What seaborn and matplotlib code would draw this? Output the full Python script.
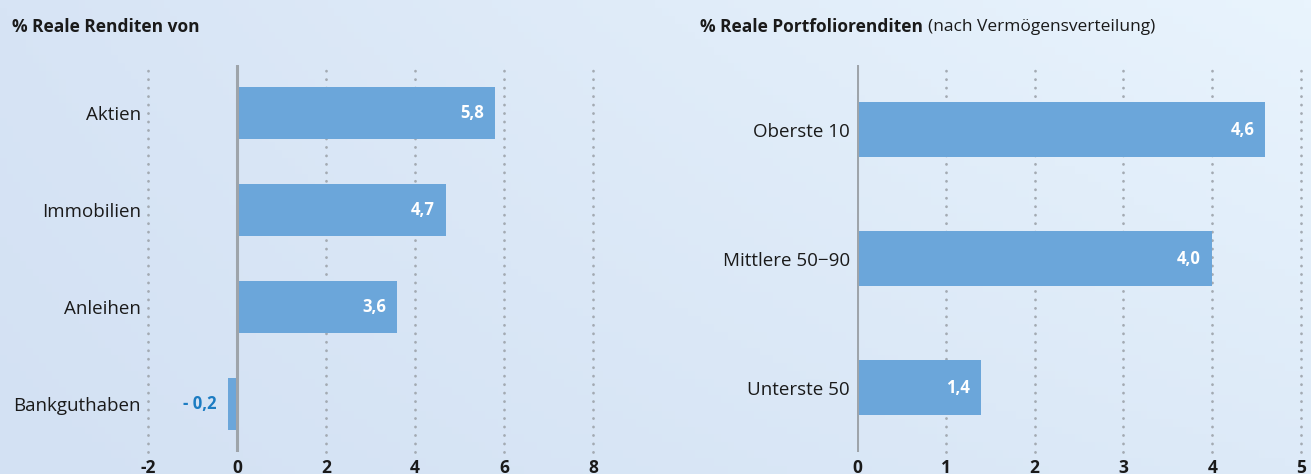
import numpy as np
import pandas as pd
import matplotlib
matplotlib.use("Agg")
import matplotlib.pyplot as plt
import seaborn as sns
from matplotlib.colors import to_rgb

# ---- data ----
left_categories = ["Aktien", "Immobilien", "Anleihen", "Bankguthaben"]
left_values = [5.8, 4.7, 3.6, -0.2]
left_labels = ["5,8", "4,7", "3,6", "- 0,2"]
left_ticks = [-2, 0, 2, 4, 6, 8]

right_categories = ["Oberste 10", "Mittlere 50\u221290", "Unterste 50"]
right_values = [4.6, 4.0, 1.4]
right_labels = ["4,6", "4,0", "1,4"]
right_ticks = [0, 1, 2, 3, 4, 5]

BAR = "#6BA6DA"
NEG_TXT = "#1C7CC2"
GRID = "#A3AAB2"
ZERO = "#9EA4AA"
TXT = "#1A1A1A"

sns.set_theme(style="white")
plt.rcParams["font.family"] = ["Open Sans", "DejaVu Sans"]

fig = plt.figure(figsize=(13.11, 4.74), dpi=100)

# background gradient
bg = fig.add_axes([0, 0, 1, 1], zorder=-10)
c_tl, c_tr = np.array(to_rgb("#D7E4F5")), np.array(to_rgb("#E9F4FD"))
c_bl, c_br = np.array(to_rgb("#D3E1F3")), np.array(to_rgb("#DDEAF8"))
nx, ny = 200, 60
u = np.linspace(0, 1, nx)[None, :, None]
v = np.linspace(0, 1, ny)[:, None, None]
img = (1 - v) * ((1 - u) * c_tl + u * c_tr) + v * ((1 - u) * c_bl + u * c_br)
bg.imshow(img, aspect="auto", extent=[0, 1, 0, 1], origin="upper")
bg.axis("off")

ax1 = fig.add_axes([148 / 1311, 1 - 452 / 474, 445 / 1311, 387 / 474])
ax2 = fig.add_axes([857 / 1311, 1 - 452 / 474, 444 / 1311, 387 / 474])

def draw(ax, cats, vals, labels, ticks, width, xlim):
    df = pd.DataFrame({"cat": cats, "val": vals})
    ax.patch.set_alpha(0)
    sns.barplot(data=df, x="val", y="cat", orient="h", color=BAR,
                width=width, saturation=1, ax=ax, linewidth=0)
    for p in ax.patches:
        p.set_zorder(3)
    for t in ticks:
        if t != 0:
            ax.axvline(t, color=GRID, lw=2.0, ls=(0, (0.05, 3.0)),
                       dash_capstyle="round", zorder=1, clip_on=False)
    ax.axvline(0, color=ZERO, lw=2.2, zorder=4)
    ax.set_xlim(*xlim)
    ax.set_ylim(len(cats) - 0.5, -0.5)
    ax.set_xticks(ticks)
    ax.set_xticklabels([str(t) for t in ticks], fontsize=12.5,
                       fontweight="bold", color=TXT)
    ax.tick_params(axis="x", length=0, pad=5)
    ax.tick_params(axis="y", length=0, pad=5, labelsize=13.5, labelcolor=TXT)
    ax.set_xlabel("")
    ax.set_ylabel("")
    for s in ax.spines.values():
        s.set_visible(False)
    for i, (v, lab) in enumerate(zip(vals, labels)):
        if v >= 0:
            ax.annotate(lab, (v, i), xytext=(-8, 0), textcoords="offset points",
                        ha="right", va="center", color="white", fontsize=12,
                        fontweight="bold", zorder=5)
        else:
            ax.annotate(lab, (v, i), xytext=(-8, 0), textcoords="offset points",
                        ha="right", va="center", color=NEG_TXT, fontsize=12,
                        fontweight="bold", zorder=5)

draw(ax1, left_categories, left_values, left_labels, left_ticks, 0.54, (-2, 8))
draw(ax2, right_categories, right_values, right_labels, right_ticks, 0.42, (0, 5))

fig.text(12 / 1311, 1 - 27 / 474, "% Reale Renditen von", fontsize=12.5,
         fontweight="bold", color=TXT, va="center", ha="left")
t = fig.text(700 / 1311, 1 - 27 / 474, "% Reale Portfoliorenditen", fontsize=12.5,
             fontweight="bold", color=TXT, va="center", ha="left")
fig.canvas.draw()
bb = t.get_window_extent()
fig.text(bb.x1 / 1311 + 5 / 1311, 1 - 27 / 474, "(nach Vermögensverteilung)",
         fontsize=12.5, color=TXT, va="center", ha="left")

fig.savefig("out.png", dpi=100)
